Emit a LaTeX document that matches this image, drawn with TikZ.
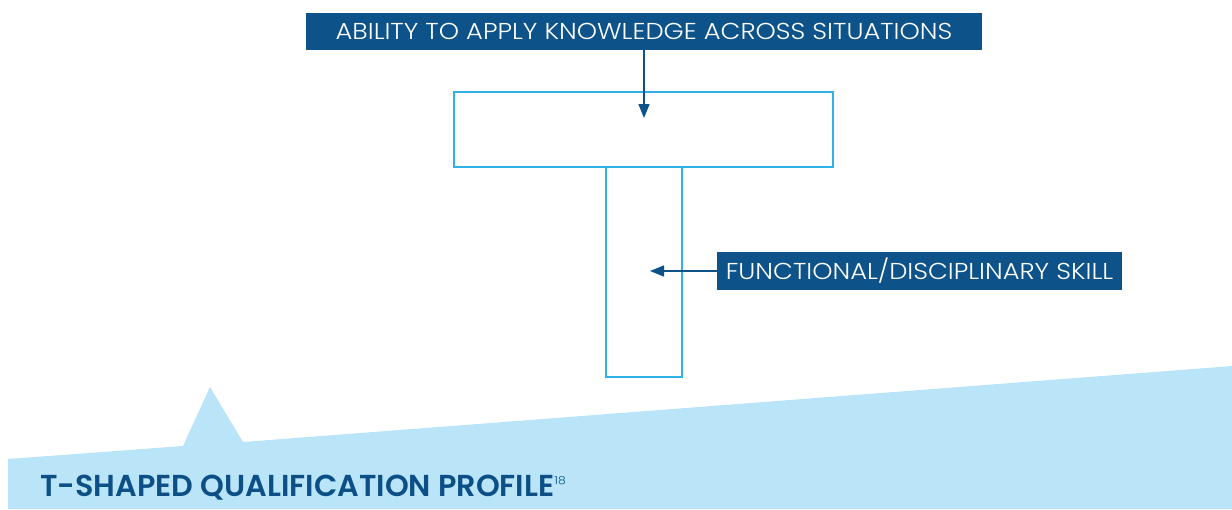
\documentclass[tikz,border=0pt]{standalone}
\usepackage{fontspec}
\setmainfont{Poppins}
\newfontfamily\lightfont{Poppins Light}[FakeStretch=1.12]
\newfontfamily\titlefont{Poppins SemiBold}
\usetikzlibrary{arrows.meta}
\definecolor{boxblue}{HTML}{0D5288}
\definecolor{titleblue}{HTML}{0B4F86}
\definecolor{paleblue}{HTML}{BAE5F8}
\definecolor{linecyan}{HTML}{2FB0E6}
\tikzset{
  labelbox/.style={fill=boxblue, text=white, inner sep=0pt, font=\lightfont\fontsize{23}{26}\selectfont},
  tpart/.style={draw=linecyan, line width=2pt, inner sep=0pt},
  pointer/.style={draw=boxblue, line width=1.4pt, -{Triangle[length=14pt,width=11pt]}},
}
\begin{document}
\begin{tikzpicture}[x=1pt,y=-1pt]
\useasboundingbox (0,0) rectangle (1232,509);
\fill[paleblue] (8,459) -- (183,446) -- (210,387) -- (243,442) -- (1232,366) -- (1232,509) -- (8,509) -- cycle;
\node[tpart, minimum width=379pt, minimum height=75pt] (bar) at (643.5,129.5) {};
\node[tpart, minimum width=76pt, minimum height=210pt] (stem) at (644,272) {};
\node[labelbox, minimum width=676pt, minimum height=37pt] (top) at (644,31.5) {ABILITY TO APPLY KNOWLEDGE ACROSS SITUATIONS};
\node[labelbox, minimum width=405pt, minimum height=38pt] (func) at (919.5,271) {FUNCTIONAL/DISCIPLINARY SKILL};
\coordinate (barpt) at (644,118);
\coordinate (stempt) at (650,271);
\draw[pointer] (top.south -| barpt) -- (barpt);
\draw[pointer] (func.west) -- (stempt);
\node[anchor=base west, inner sep=0pt, text=titleblue] (title) at (40,496) {\titlefont\fontsize{30.3}{34}\selectfont T-SHAPED QUALIFICATION PROFILE\raisebox{12pt}{\lightfont\fontsize{11}{12}\selectfont 18}};
\end{tikzpicture}
\end{document}
